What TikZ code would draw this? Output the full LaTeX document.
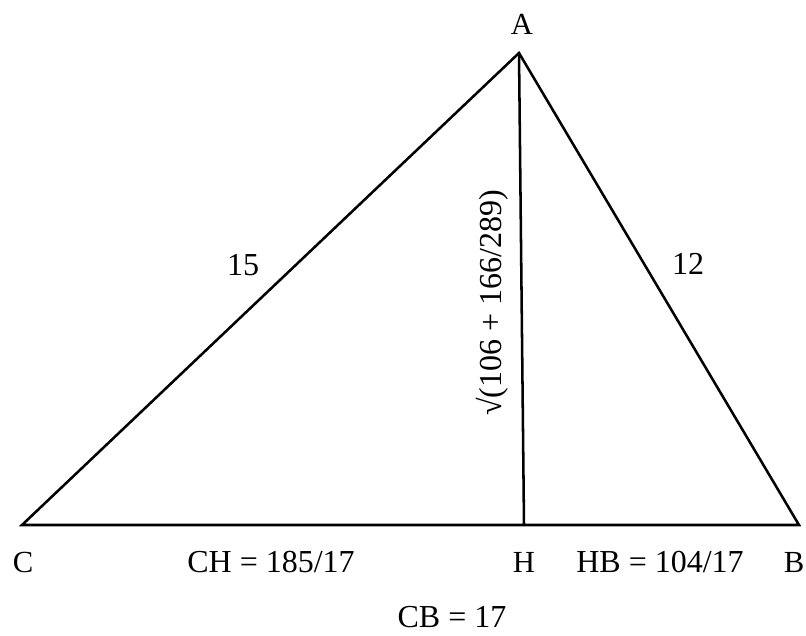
\documentclass[tikz,border=0pt]{standalone}
\usepackage{fontspec}
\setmainfont{Liberation Serif}
\usepackage{tikz}
\tikzset{
  side/.style  = {draw=black, line width=1.9pt, line join=miter},
  vlbl/.style  = {font=\fontsize{23}{26}\selectfont, inner sep=0pt},
  len/.style   = {font=\fontsize{24}{27}\selectfont, inner sep=0pt},
}

\begin{document}
\begin{tikzpicture}[x=0.75pt, y=-0.75pt]
\useasboundingbox (0,0) rectangle (806,635);

% --- vertices -----------------------------------------------------------
\coordinate (A) at (519,53);
\coordinate (C) at (22,525);
\coordinate (B) at (799,525);
\coordinate (H) at (524,525);

% --- triangle and altitude ----------------------------------------------
\draw[side] (C) -- (A) -- (B) -- cycle;
\draw[side] (A) -- (H);

% --- vertex names -------------------------------------------------------
\node[vlbl] (nA) at (522,24) {A};
\node[vlbl] (nC) at (23,562) {C};
\node[vlbl] (nH) at (524,562) {H};
\node[vlbl] (nB) at (794,562) {B};

% --- lengths ------------------------------------------------------------
\node[len] (lCA) at (243,265) {15};
\node[len] (lAB) at (688,264) {12};
\node[len, rotate=90] (lAH) at (492,303) {√(106 + 166/289)};
\node[len] (lCH) at (271,562) {CH = 185/17};
\node[len] (lHB) at (660,562) {HB = 104/17};
\node[len] (lCB) at (452,617) {CB = 17};

\end{tikzpicture}
\end{document}
